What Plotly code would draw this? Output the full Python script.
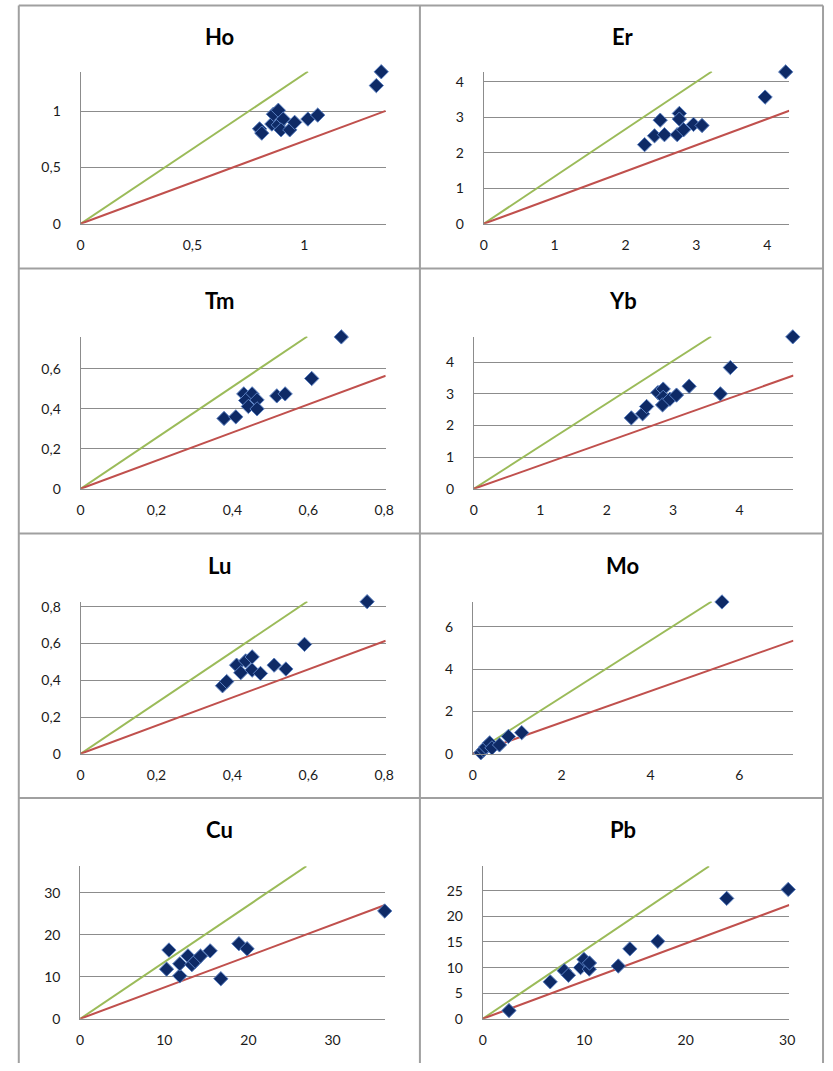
import plotly.graph_objects as go

W, H = 833, 1071

# ---------------- data ----------------
names = ["Ho", "Er", "Tm", "Yb", "Lu", "Mo", "Cu", "Pb"]

ho_x = [0.80, 0.81, 0.855, 0.862, 0.884, 0.884, 0.906, 0.896, 0.935, 0.957, 1.016, 1.06, 1.322, 1.344]
ho_y = [0.843, 0.805, 0.886, 0.973, 1.008, 0.878, 0.930, 0.834, 0.834, 0.901, 0.930, 0.965, 1.227, 1.350]

er_x = [2.27, 2.41, 2.49, 2.55, 2.73, 2.76, 2.76, 2.82, 2.96, 3.08, 3.97, 4.26]
er_y = [2.23, 2.48, 2.92, 2.51, 2.51, 3.11, 2.95, 2.65, 2.80, 2.77, 3.57, 4.28]

tm_x = [0.378, 0.409, 0.430, 0.452, 0.435, 0.442, 0.465, 0.465, 0.517, 0.539, 0.609, 0.687]
tm_y = [0.352, 0.360, 0.475, 0.475, 0.442, 0.412, 0.445, 0.400, 0.465, 0.475, 0.552, 0.760]

yb_x = [2.37, 2.54, 2.60, 2.77, 2.85, 2.85, 2.84, 2.95, 3.05, 3.24, 3.71, 3.86, 4.80]
yb_y = [2.24, 2.37, 2.60, 3.04, 3.15, 2.89, 2.65, 2.83, 2.96, 3.24, 3.00, 3.83, 4.80]

lu_x = [0.374, 0.385, 0.411, 0.422, 0.435, 0.452, 0.452, 0.474, 0.510, 0.541, 0.590, 0.755]
lu_y = [0.370, 0.393, 0.482, 0.441, 0.505, 0.527, 0.455, 0.437, 0.482, 0.461, 0.595, 0.827]

mo_x = [0.18, 0.24, 0.29, 0.38, 0.43, 0.60, 0.80, 1.10, 5.61]
mo_y = [0.05, 0.18, 0.32, 0.52, 0.28, 0.42, 0.82, 1.00, 7.18]

cu_x = [10.55, 10.27, 11.84, 11.84, 12.81, 13.28, 13.67, 14.30, 15.45, 16.72, 18.87, 19.84, 36.2]
cu_y = [16.4, 11.83, 10.25, 13.1, 15.0, 12.9, 13.7, 14.95, 16.2, 9.55, 17.9, 16.7, 25.7]

pb_x = [2.59, 6.65, 8.03, 8.45, 9.64, 9.98, 10.5, 10.52, 13.36, 14.50, 17.25, 24.04, 30.10]
pb_y = [1.61, 7.22, 9.4, 8.51, 10.0, 11.6, 9.7, 10.9, 10.31, 13.66, 15.14, 23.52, 25.26]

xs = [ho_x, er_x, tm_x, yb_x, lu_x, mo_x, cu_x, pb_x]
ys = [ho_y, er_y, tm_y, yb_y, lu_y, mo_y, cu_y, pb_y]

x_max = [1.364, 4.31, 0.804, 4.81, 0.804, 7.22, 36.25, 30.2]
y_max = [1.352, 4.29, 0.762, 4.81, 0.828, 7.20, 36.37, 29.8]
x_dtick = [0.5, 1, 0.2, 1, 0.2, 2, 10, 10]
y_dtick = [0.5, 1, 0.2, 1, 0.2, 2, 10, 5]

green_slope = [1.33, 1.333, 1.276, 1.347, 1.386, 1.339, 1.353, 1.336]
red_slope = [0.735, 0.739, 0.704, 0.744, 0.765, 0.741, 0.748, 0.736]

# ---------------- layout (pixel boxes of plot areas) ----------------
boxes = [
    (77.7, 387.3, 68.3, 222.3),
    (486.7, 796.7, 68.3, 222.3),
    (77.7, 387.3, 336.3, 490.3),
    (476.7, 801.0, 336.3, 490.3),
    (77.7, 387.3, 604.3, 758.3),
    (475.7, 801.0, 604.3, 758.3),
    (77.3, 386.7, 872.0, 1026.3),
    (485.7, 796.7, 872.0, 1026.3),
]
title_pos = [(219, 33), (628, 33), (219, 300), (628, 300),
             (219, 568), (628, 568), (219, 835), (628, 835)]

GREEN = "#9BBB59"
RED = "#C0504D"
AX = "#8C8C8C"
FONT = "Lato, 'Open Sans', Arial, sans-serif"

fig = go.Figure()
layout = dict(
    width=W, height=H, margin=dict(l=0, r=0, t=0, b=0),
    paper_bgcolor="white", plot_bgcolor="white",
    showlegend=False, separators=", ",
    font=dict(family=FONT, size=14, color="#262626"),
)

annotations = []
for i in range(8):
    n = i + 1
    xa = "x" if n == 1 else f"x{n}"
    ya = "y" if n == 1 else f"y{n}"
    x0, x1, y0, y1 = boxes[i]
    layout["xaxis" if n == 1 else f"xaxis{n}"] = dict(
        domain=[x0 / W, x1 / W], anchor=ya, range=[0, x_max[i]],
        dtick=x_dtick[i], tick0=0, showgrid=False, zeroline=False,
        showline=True, linecolor=AX, linewidth=1,
        ticks="outside", ticklen=8, tickcolor="rgba(0,0,0,0)",
        tickfont=dict(family=FONT, size=14, color="#1a1a1a"),
    )
    layout["yaxis" if n == 1 else f"yaxis{n}"] = dict(
        domain=[1 - y1 / H, 1 - y0 / H], anchor=xa, range=[0, y_max[i]],
        dtick=y_dtick[i], tick0=0, showgrid=True, gridcolor=AX, gridwidth=1,
        zeroline=False, showline=True, linecolor=AX, linewidth=1,
        ticks="outside", ticklen=16, tickcolor="rgba(0,0,0,0)",
        tickfont=dict(family=FONT, size=14, color="#1a1a1a"),
    )
    # reference lines through the origin
    gx_end = y_max[i] / green_slope[i]
    fig.add_trace(go.Scatter(x=[0, gx_end], y=[0, green_slope[i] * gx_end],
                             mode="lines", line=dict(color=GREEN, width=2),
                             xaxis=xa, yaxis=ya, hoverinfo="skip"))
    fig.add_trace(go.Scatter(x=[0, x_max[i]], y=[0, red_slope[i] * x_max[i]],
                             mode="lines", line=dict(color=RED, width=2),
                             xaxis=xa, yaxis=ya, hoverinfo="skip"))
    fig.add_trace(go.Scatter(x=xs[i], y=ys[i], mode="markers", cliponaxis=False,
                             marker=dict(symbol="diamond", size=11, color="#0E2A66",
                                         line=dict(color="#5A7FC0", width=1)),
                             xaxis=xa, yaxis=ya, name=names[i]))
    tx, ty = title_pos[i]
    annotations.append(dict(text=f"<b>{names[i]}</b>", x=tx / W, y=1 - ty / H,
                            xref="paper", yref="paper", showarrow=False,
                            xanchor="center", yanchor="middle",
                            font=dict(family=FONT, size=22, color="#000000")))

# table cell borders
BORDER = "#A0A0A0"
shapes = []
def hline(yp, xa_, xb_):
    shapes.append(dict(type="line", xref="paper", yref="paper",
                       x0=xa_ / W, x1=xb_ / W, y0=1 - yp / H, y1=1 - yp / H,
                       line=dict(color=BORDER, width=2)))
def vline(xp, ya_, yb_):
    shapes.append(dict(type="line", xref="paper", yref="paper",
                       x0=xp / W, x1=xp / W, y0=1 - ya_ / H, y1=1 - yb_ / H,
                       line=dict(color=BORDER, width=2)))
for yp in [1.5, 267.5, 535.5, 803.0]:
    hline(yp, 15, 831)
for xp in [15, 422, 831]:
    vline(xp, 1.5, 1071)

layout["annotations"] = annotations
layout["shapes"] = shapes
fig.update_layout(**layout)
fig.write_html(
    "out.html",
    config={"displayModeBar": False},
    post_script="document.body.style.margin='0';document.body.style.overflow='hidden';",
)
